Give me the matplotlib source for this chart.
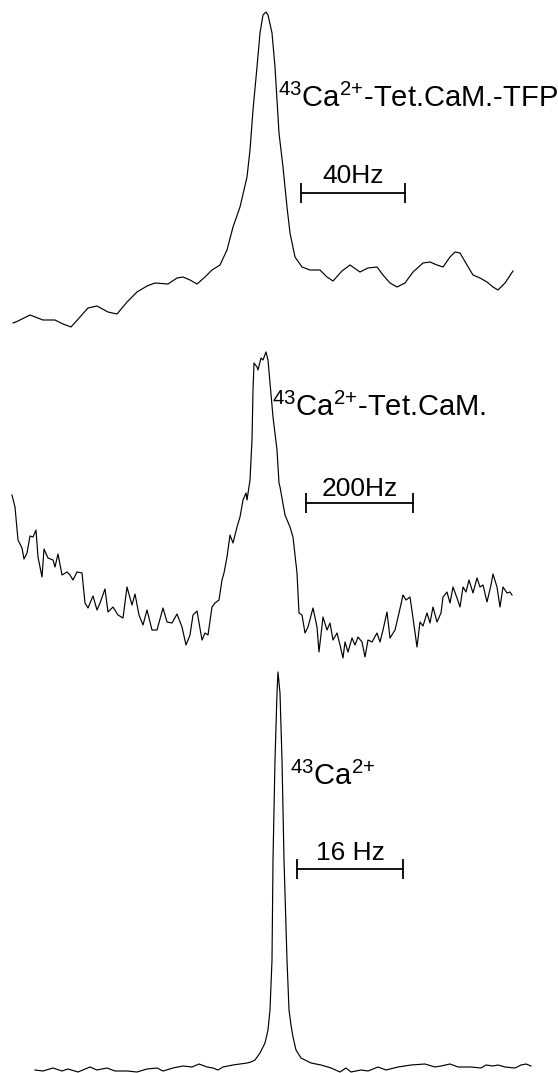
import matplotlib
matplotlib.use("Agg")
import matplotlib.pyplot as plt

# Fonte parecida com a do original (letras altas, largura normal)
plt.rcParams['font.family'] = ['Liberation Sans', 'DejaVu Sans']
plt.rcParams['mathtext.fontset'] = 'custom'
plt.rcParams['mathtext.rm'] = 'Liberation Sans'
plt.rcParams['mathtext.default'] = 'regular'

# 43Ca2+ - Tet.CaM. - TFP
top_canal = [13, 18, 30, 43, 55, 63, 71, 80, 88, 97, 108, 117, 127, 137, 147, 155, 168, 177, 183, 190,
             197, 205, 212, 220, 227, 233, 240, 247, 250, 253, 257, 260, 263, 266, 268, 272, 275, 279, 283, 287,
             290, 295, 302, 310, 320, 327, 333, 342, 350, 360, 368, 377, 383, 390, 397, 405, 413, 423, 430, 437,
             443, 450, 455, 460, 467, 473, 480, 487, 493, 498, 505, 513]
top_sinal = [17, 19, 25, 20, 20, 16, 13, 23, 32, 34, 28, 26, 38, 48, 54, 57, 56, 62, 63, 60,
             56, 63, 70, 75, 90, 113, 133, 163, 190, 230, 273, 307, 325, 328, 325, 307, 273, 207, 173, 133,
             107, 83, 73, 70, 70, 63, 59, 69, 75, 68, 72, 73, 65, 57, 53, 57, 68, 77, 78, 75,
             73, 83, 88, 87, 75, 65, 62, 58, 53, 50, 57, 69]

# 43Ca2+ - Tet.CaM.
mid_canal = [12, 15, 18, 22, 24, 27, 30, 33, 36, 38, 42, 44, 48, 53, 55, 58, 62, 67, 70, 73,
             77, 82, 85, 88, 93, 97, 100, 105, 108, 113, 118, 123, 127, 132, 135, 139, 143, 147, 152, 157,
             163, 167, 172, 177, 182, 186, 190, 193, 197, 202, 205, 208, 212, 215, 219, 222, 224, 227, 230, 233,
             237, 240, 243, 246, 247, 250, 252, 253, 254, 257, 258, 261, 263, 266, 268, 270, 273, 277, 279, 280,
             285, 290, 293, 297, 299, 302, 305, 308, 313, 317, 319, 323, 327, 330, 333, 337, 340, 343, 345, 348,
             352, 355, 358, 362, 365, 368, 372, 377, 380, 383, 387, 390, 395, 399, 403, 406, 410, 413, 417, 420,
             423, 427, 430, 433, 437, 441, 443, 447, 450, 453, 457, 460, 463, 466, 469, 473, 477, 480, 483, 487,
             491, 493, 497, 500, 503, 507, 510, 512]
mid_sinal = [175, 163, 130, 122, 111, 117, 134, 133, 140, 113, 93, 121, 112, 110, 103, 116, 95, 98, 95, 90,
             98, 97, 67, 62, 74, 60, 67, 81, 58, 63, 55, 52, 83, 65, 76, 55, 45, 60, 40, 40,
             62, 48, 47, 56, 43, 25, 35, 55, 59, 30, 37, 35, 63, 67, 70, 90, 97, 113, 135, 127,
             143, 153, 170, 177, 170, 190, 230, 280, 307, 303, 300, 312, 310, 318, 310, 287, 253, 220, 187, 183,
             155, 143, 133, 97, 57, 55, 37, 43, 62, 43, 18, 53, 40, 47, 30, 37, 25, 12, 28, 18,
             32, 25, 33, 28, 13, 30, 28, 37, 28, 40, 58, 32, 40, 57, 75, 70, 73, 52, 23, 48,
             44, 57, 47, 63, 48, 57, 73, 78, 67, 83, 72, 63, 83, 78, 90, 77, 92, 83, 85, 68,
             85, 96, 83, 63, 83, 77, 78, 75]

# 43Ca2+ livre
bot_canal = [35, 43, 53, 62, 68, 78, 90, 97, 107, 115, 127, 137, 147, 157, 163, 173, 183, 192, 199, 207,
             213, 218, 223, 233, 247, 251, 255, 260, 265, 268, 270, 272, 273, 275, 277, 278, 280, 282, 284, 287,
             289, 291, 293, 296, 301, 311, 321, 331, 340, 346, 351, 361, 368, 378, 386, 398, 411, 425, 435, 441,
             450, 458, 471, 481, 486, 493, 498, 505, 515, 521, 526, 531]
bot_sinal = [3, 2, 5, 2, 4, 1, 6, 3, 5, 2, 2, 1, 4, 5, 2, 5, 7, 6, 9, 6,
             5, 3, 6, 8, 10, 11, 13, 20, 30, 43, 63, 113, 213, 313, 380, 401, 380, 313, 213, 113,
             63, 48, 36, 23, 15, 10, 8, 5, 1, 5, 1, 3, 2, 6, 3, 6, 8, 9, 6, 7,
             9, 6, 6, 5, 8, 7, 8, 6, 5, 8, 9, 7]

# "{+}" evita o espaçamento de operador binário no mathtext
rotulos = [r'$^{43}$Ca$^{2{+}}$-Tet.CaM.-TFP', r'$^{43}$Ca$^{2{+}}$-Tet.CaM.', r'$^{43}$Ca$^{2{+}}$']
escalas_hz = [40, 200, 16]                 # comprimento da barra de escala
hz_por_canal = [40 / 104, 200 / 107, 16 / 106]
textos_escala = ['40Hz', '200Hz', '16 Hz']


def desenhar_painel(ax, canal, sinal, rotulo, altura, pos_rotulo, escala, hz_canal, texto, pos_barra, pos_texto):
    ax.plot(canal, sinal, color='black', lw=0.85, solid_joinstyle='round')
    ax.set_xlim(0, 558)
    ax.set_ylim(0, altura)
    ax.axis('off')
    # rótulo da amostra
    ax.text(pos_rotulo[0], pos_rotulo[1], rotulo, fontsize=21, ha='left', va='baseline')
    # barra de escala em Hz
    x0, yb = pos_barra
    x1 = x0 + escala / hz_canal
    ax.plot([x0, x1], [yb, yb], color='black', lw=1.3)
    ax.vlines([x0, x1], yb - 10, yb + 10, color='black', lw=1.3)
    ax.text((x0 + x1) / 2, pos_texto, texto, fontsize=19, ha='center', va='baseline')


fig = plt.figure(figsize=(5.58, 10.73), dpi=100)
alturas = [340, 330, 403]
total = sum(alturas)
ax_top = fig.add_axes([0, 1 - 340 / total, 1, 340 / total])
ax_mid = fig.add_axes([0, 1 - 670 / total, 1, 330 / total])
ax_bot = fig.add_axes([0, 0, 1, 403 / total])

desenhar_painel(ax_top, top_canal, top_sinal, rotulos[0], 340, (278, 233),
                escalas_hz[0], hz_por_canal[0], textos_escala[0], (301, 147), 157)
desenhar_painel(ax_mid, mid_canal, mid_sinal, rotulos[1], 330, (272, 254),
                escalas_hz[1], hz_por_canal[1], textos_escala[1], (306, 167), 174)
desenhar_painel(ax_bot, bot_canal, bot_sinal, rotulos[2], 403, (290, 288),
                escalas_hz[2], hz_por_canal[2], textos_escala[2], (297, 204), 213)

fig.savefig('out.png', dpi=100, facecolor='white')
plt.close(fig)
